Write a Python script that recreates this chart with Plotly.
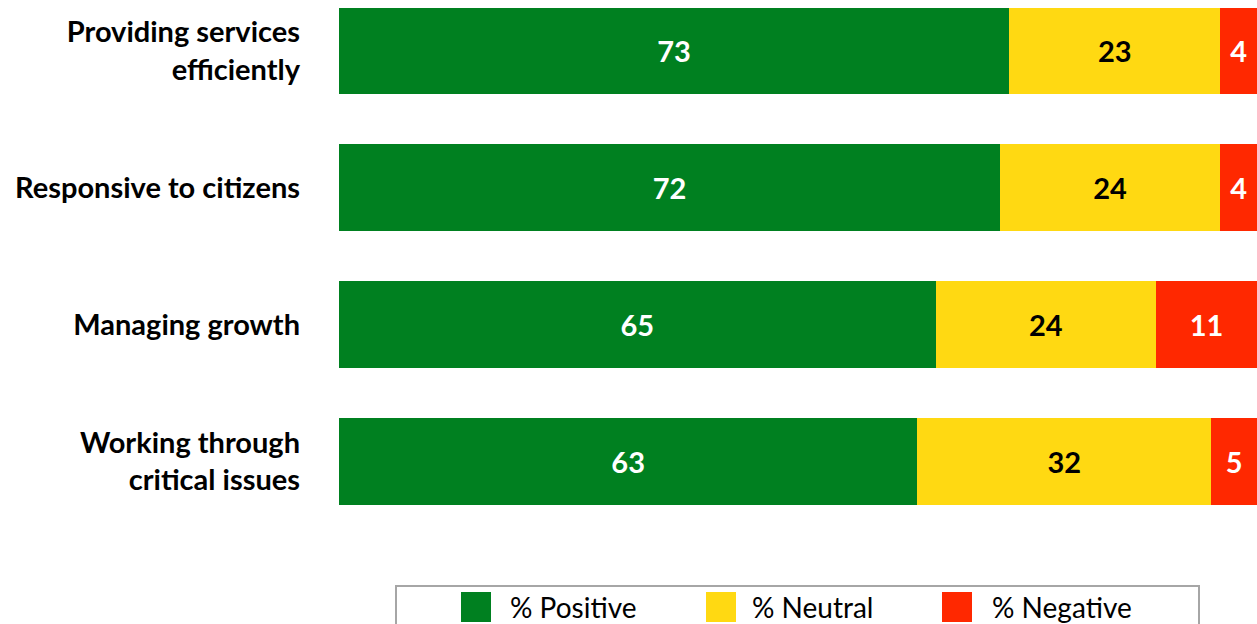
import plotly.graph_objects as go

categories = ["Providing services<br>efficiently", "Responsive to citizens",
              "Managing growth", "Working through<br>critical issues"]
positive = [73, 72, 65, 63]
neutral = [23, 24, 24, 32]
negative = [4, 4, 11, 5]
series_names = ["% Positive", "% Neutral", "% Negative"]
colors = ["#008020", "#FFD912", "#FF2800"]
text_colors = ["white", "black", "white"]

FONT = "Lato"
W, H = 1257, 624
ML, MR, MT, MB = 339, 0, 0, 94
PW, PH = W - ML - MR, H - MT - MB

fig = go.Figure()
for name, vals, col, tcol in zip(series_names, [positive, neutral, negative], colors, text_colors):
    fig.add_trace(go.Bar(
        y=categories, x=vals, name=name, orientation="h",
        marker=dict(color=col, line=dict(width=0)),
        text=vals, texttemplate="%{text}", textposition="inside",
        insidetextanchor="middle", constraintext="none",
        textfont=dict(family=FONT, size=29, color=tcol, weight="bold"),
        showlegend=False, hoverinfo="skip",
    ))

fig.update_layout(
    barmode="stack", bargap=0.366,
    width=W, height=H, margin=dict(l=ML, r=MR, t=MT, b=MB),
    plot_bgcolor="white", paper_bgcolor="white",
    font=dict(family=FONT),
    xaxis=dict(range=[0, 100], visible=False, showgrid=False, zeroline=False),
    yaxis=dict(range=[3.5006, -0.3727], showgrid=False, zeroline=False, showline=False,
               ticks="", ticklabelstandoff=38,
               tickfont=dict(family=FONT, size=29, color="black", weight="bold")),
)

def px_x(px):
    return (px - ML) / PW

def px_y(py):
    return (H - MB - py) / PH

# custom legend box
fig.add_shape(type="rect", xref="paper", yref="paper",
              x0=px_x(396), x1=px_x(1199), y0=px_y(660), y1=px_y(586),
              line=dict(color="#A6A6A6", width=2), fillcolor="white", layer="above")
leg_sq = [461, 706, 942]
leg_tx = [508, 750, 990]
for name, col, sx, tx in zip(series_names, colors, leg_sq, leg_tx):
    fig.add_shape(type="rect", xref="paper", yref="paper",
                  x0=px_x(sx), x1=px_x(sx + 30), y0=px_y(622), y1=px_y(592),
                  line=dict(width=0), fillcolor=col, layer="above")
    fig.add_annotation(xref="paper", yref="paper", x=px_x(tx), y=px_y(607),
                       text=name, showarrow=False, xanchor="left", yanchor="middle",
                       font=dict(family=FONT, size=28, color="black"))

fig.write_html(
    "out.html",
    config={"displayModeBar": False, "staticPlot": True},
    post_script="document.body.style.margin='0';document.documentElement.style.overflow='hidden';document.body.style.overflow='hidden';",
)
